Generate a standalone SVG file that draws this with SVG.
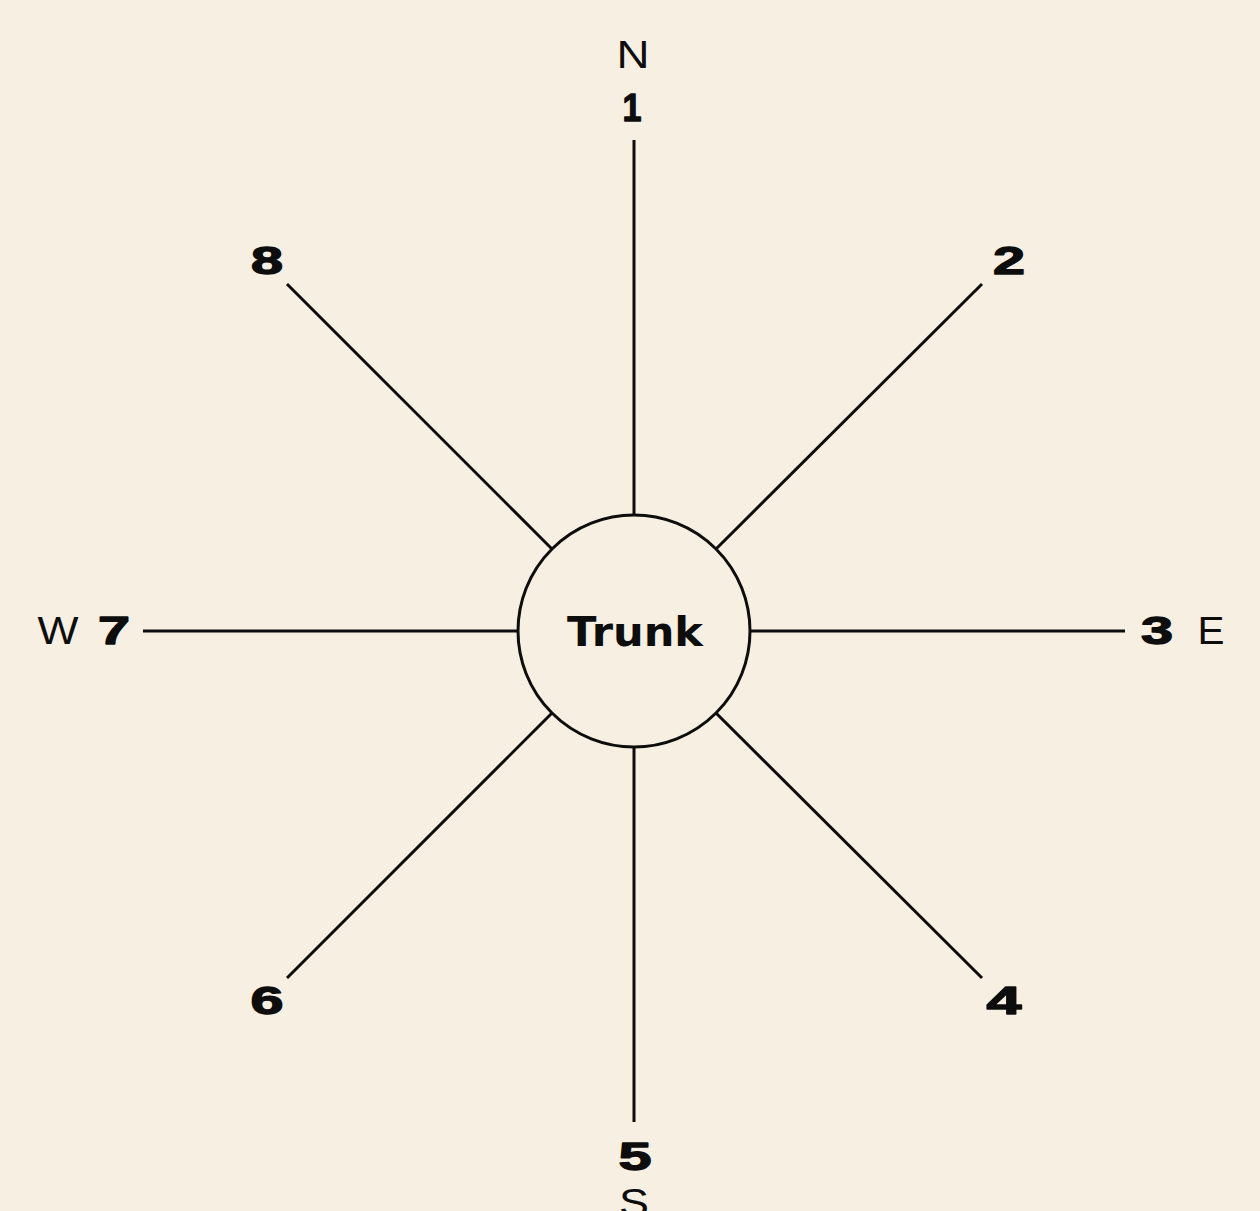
<svg xmlns="http://www.w3.org/2000/svg" width="1260" height="1211" viewBox="0 0 1260 1211">
<style>
.bg{fill:#F7F0E2}
.ln{stroke:#0d0d0d;stroke-width:3;fill:none;stroke-linecap:butt}
.num{font-family:"Liberation Sans",Arial,sans-serif;font-weight:bold;font-size:38px;fill:#0d0d0d;stroke:#0d0d0d;stroke-width:1.3;stroke-linejoin:round;text-anchor:middle}
.dir{font-family:"Liberation Sans",Arial,sans-serif;font-weight:normal;font-size:38px;fill:#0d0d0d;text-anchor:middle}
.trunk{font-family:"DejaVu Sans",sans-serif;font-weight:bold;font-size:40px;fill:#0d0d0d;text-anchor:middle}
</style>
<rect class="bg" x="0" y="0" width="1260" height="1211"/>
<g id="connectors">
<line class="ln" x1="634" y1="515" x2="634" y2="140"/>
<line class="ln" x1="634" y1="747" x2="634" y2="1122"/>
<line class="ln" x1="518" y1="631" x2="143" y2="631"/>
<line class="ln" x1="750" y1="631" x2="1125" y2="631"/>
<line class="ln" x1="716" y1="549" x2="982" y2="284"/>
<line class="ln" x1="552" y1="549" x2="287" y2="284"/>
<line class="ln" x1="716" y1="713" x2="982" y2="978"/>
<line class="ln" x1="552" y1="713" x2="287" y2="978"/>
</g>
<g id="trunk">
<circle class="ln" cx="634" cy="631" r="116"/>
<text class="trunk" x="635" y="646" textLength="136" lengthAdjust="spacingAndGlyphs">Trunk</text>
</g>
<g id="node-1">
<text class="dir" x="633" y="68" textLength="33" lengthAdjust="spacingAndGlyphs">N</text>
<text class="num" x="632" y="121" textLength="19" lengthAdjust="spacingAndGlyphs">1</text>
</g>
<g id="node-2"><text class="num" x="1009" y="274" textLength="32" lengthAdjust="spacingAndGlyphs">2</text></g>
<g id="node-3">
<text class="num" x="1157" y="644" textLength="32" lengthAdjust="spacingAndGlyphs">3</text>
<text class="dir" x="1211" y="644" textLength="27" lengthAdjust="spacingAndGlyphs">E</text>
</g>
<g id="node-4"><text class="num" x="1004" y="1014" textLength="35" lengthAdjust="spacingAndGlyphs">4</text></g>
<g id="node-5">
<text class="num" x="635" y="1170" textLength="33" lengthAdjust="spacingAndGlyphs">5</text>
<text class="dir" x="634" y="1216" textLength="30" lengthAdjust="spacingAndGlyphs">S</text>
</g>
<g id="node-6"><text class="num" x="267" y="1014" textLength="33" lengthAdjust="spacingAndGlyphs">6</text></g>
<g id="node-7">
<text class="dir" x="58" y="644" textLength="41" lengthAdjust="spacingAndGlyphs">W</text>
<text class="num" x="114" y="644" textLength="32" lengthAdjust="spacingAndGlyphs">7</text>
</g>
<g id="node-8"><text class="num" x="267" y="274" textLength="32" lengthAdjust="spacingAndGlyphs">8</text></g>
</svg>
